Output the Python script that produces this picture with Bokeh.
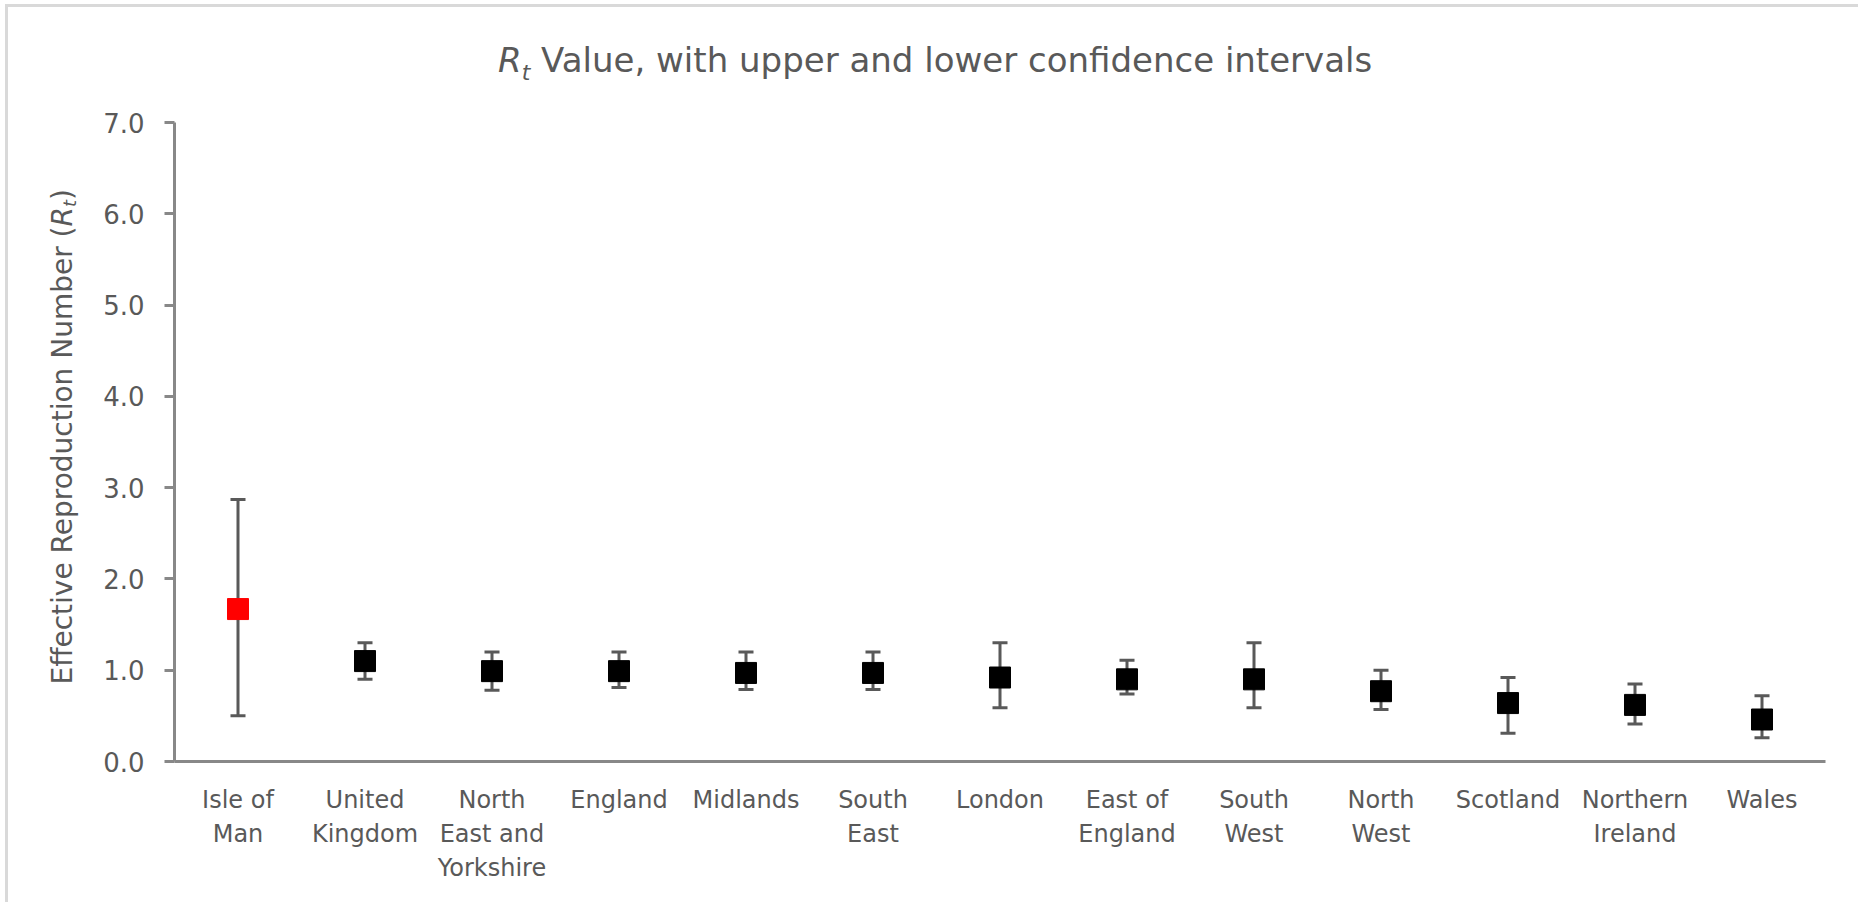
from bokeh.embed import file_html
from bokeh.layouts import column, row
from bokeh.models import (CategoricalAxis, ColumnDataSource, CustomJSTickFormatter, Div,
                          FactorRange, PrintfTickFormatter, Range1d, SingleIntervalTicker,
                          TeeHead, Whisker)
from bokeh.plotting import figure
from bokeh.resources import INLINE

# Effective reproduction number by region, with lower / upper confidence bounds
regions = ["Isle of Man", "United Kingdom", "North East and Yorkshire", "England",
           "Midlands", "South East", "London", "East of England", "South West",
           "North West", "Scotland", "Northern Ireland", "Wales"]
rt_value = [1.67, 1.10, 0.99, 0.99, 0.97, 0.97, 0.92, 0.90, 0.90, 0.77, 0.64, 0.62, 0.46]
rt_upper = [2.87, 1.30, 1.20, 1.20, 1.20, 1.20, 1.30, 1.11, 1.30, 1.00, 0.92, 0.85, 0.72]
rt_lower = [0.50, 0.90, 0.78, 0.81, 0.79, 0.79, 0.59, 0.74, 0.59, 0.57, 0.31, 0.41, 0.26]

# wrapped category labels
label_lines = {
    "Isle of Man": ["Isle of", "Man"],
    "United Kingdom": ["United", "Kingdom"],
    "North East and Yorkshire": ["North", "East and", "Yorkshire"],
    "England": ["England"],
    "Midlands": ["Midlands"],
    "South East": ["South", "East"],
    "London": ["London"],
    "East of England": ["East of", "England"],
    "South West": ["South", "West"],
    "North West": ["North", "West"],
    "Scotland": ["Scotland"],
    "Northern Ireland": ["Northern", "Ireland"],
    "Wales": ["Wales"],
}
y_tick_interval = 1.0
y_max = 7.0

HIGHLIGHT = "Isle of Man"
TEXT = "#595959"
AXIS = "#888888"
BAR = "#595959"
EDGE = "#d9d9d9"
FONT = "DejaVu Sans"

W, H = 1858, 902
TITLE_H = 100          # height of the title strip
YLAB_W = 90            # width of the y-axis title strip
FRAME_LEFT, FRAME_RIGHT, FRAME_TOP, FRAME_BOTTOM = 174, 1825, 122, 761

colors = ["#ff0000" if r == HIGHLIGHT else "#000000" for r in regions]
src = ColumnDataSource(dict(region=regions, rt=rt_value, upper=rt_upper,
                            lower=rt_lower, color=colors))

p = figure(width=W - YLAB_W, height=H - TITLE_H, x_range=FactorRange(*regions),
           y_range=Range1d(0, y_max), output_backend="svg", toolbar_location=None,
           min_border_left=FRAME_LEFT - YLAB_W, min_border_right=W - FRAME_RIGHT,
           min_border_top=FRAME_TOP - TITLE_H, min_border_bottom=H - FRAME_BOTTOM,
           margin=0)
p.outline_line_color = None
p.grid.visible = False
p.background_fill_color = "white"
p.border_fill_color = "white"
p.title.visible = False

# y axis
ya = p.yaxis[0]
ya.ticker = SingleIntervalTicker(interval=y_tick_interval)
ya.formatter = PrintfTickFormatter(format="%.1f")
ya.axis_line_color = AXIS
ya.axis_line_width = 3
ya.major_tick_line_color = AXIS
ya.major_tick_line_width = 3
ya.major_tick_in = 0
ya.major_tick_out = 10
ya.minor_tick_line_color = None
ya.major_label_standoff = 20
ya.major_label_text_font = FONT
ya.major_label_text_font_size = "26px"
ya.major_label_text_color = TEXT


def style_category_axis(axis, line_no, standoff):
    """One row of the wrapped category names."""
    axis.major_tick_line_color = None
    axis.major_tick_in = 0
    axis.major_tick_out = 0
    axis.minor_tick_line_color = None
    axis.major_label_standoff = standoff
    axis.major_label_text_font = FONT
    axis.major_label_text_font_size = "24px"
    axis.major_label_text_color = TEXT
    row_text = {r: (label_lines[r][line_no] if line_no < len(label_lines[r]) else "")
                for r in regions}
    axis.formatter = CustomJSTickFormatter(args=dict(row_text=row_text),
                                           code="return row_text[tick] ?? '';")


# x axis: baseline plus first row of names; further rows stacked underneath
xa = p.xaxis[0]
xa.axis_line_color = AXIS
xa.axis_line_width = 3
style_category_axis(xa, 0, 24)

n_rows = max(len(v) for v in label_lines.values())
for line_no in range(1, n_rows):
    extra = CategoricalAxis(axis_line_color=None)
    style_category_axis(extra, line_no, 3)
    p.add_layout(extra, "below")

# confidence intervals
p.add_layout(Whisker(source=src, base="region", upper="upper", lower="lower",
                     line_color=BAR, line_width=3,
                     upper_head=TeeHead(size=15, line_color=BAR, line_width=3),
                     lower_head=TeeHead(size=15, line_color=BAR, line_width=3)))

# point estimates
p.scatter("region", "rt", source=src, marker="square", size=21,
          fill_color="color", line_color="color")

# chart title: R_t Value, with upper and lower confidence intervals
title_html = (
    f'<div style="margin:4px 0 0 5px;border-top:3px solid {EDGE};border-left:3px solid {EDGE};'
    f'width:{W - 5}px;height:{TITLE_H - 4}px;box-sizing:border-box;">'
    f'<div style="padding:36px 0 0 490px;font-family:\'{FONT}\';font-size:34px;line-height:1;'
    f'color:{TEXT};white-space:nowrap;">'
    '<i>R</i><sub style="font-size:22px;font-style:italic;">t</sub> Value, with upper and '
    'lower confidence intervals</div></div>'
)
title_div = Div(text=title_html, width=W, height=TITLE_H, margin=0)

# y axis title, rotated to read bottom-to-top
ylab_html = (
    f'<div style="margin-left:5px;border-left:3px solid {EDGE};height:{H - TITLE_H}px;'
    'box-sizing:border-box;display:flex;align-items:center;padding-bottom:128px;">'
    f'<div style="writing-mode:vertical-rl;transform:rotate(180deg);margin-left:41px;'
    f'font-family:\'{FONT}\';font-size:28px;line-height:1;color:{TEXT};white-space:nowrap;">'
    'Effective Reproduction Number (<i>R</i><sub style="font-size:18px;font-style:italic;">t</sub>)'
    '</div></div>'
)
ylab_div = Div(text=ylab_html, width=YLAB_W, height=H - TITLE_H, margin=0)

layout = column(title_div, row(ylab_div, p, spacing=0, margin=0), spacing=0, margin=0)

open("out.html", "w").write(file_html(layout, INLINE))
